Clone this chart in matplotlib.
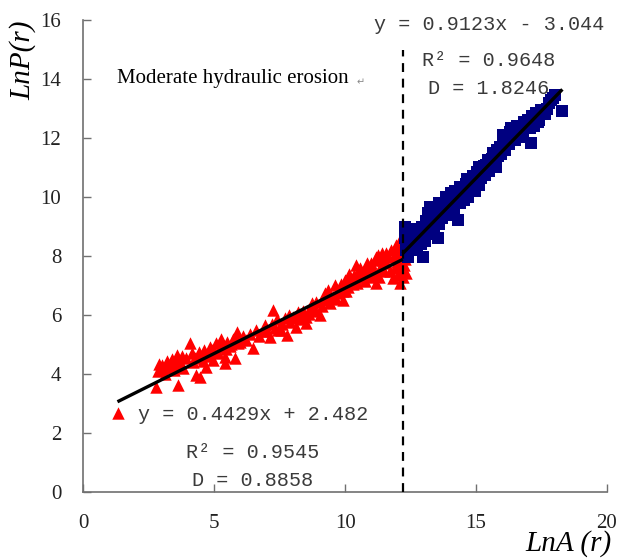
import matplotlib
matplotlib.use("Agg")
import matplotlib.pyplot as plt
import numpy as np

# ---------------- data ----------------
red_x = [1.33, 2.79, 3.62, 2.85, 3.0, 3.1, 3.2, 3.3, 3.4, 3.5, 3.56, 3.7, 3.8, 3.9, 3.0, 2.9,
         4.06, 4.13, 4.2, 4.32, 4.45, 4.5, 4.6, 4.7, 4.83, 4.95, 5.0, 5.08, 5.2, 5.3, 5.4, 5.4,
         5.5, 5.6, 5.78, 5.85, 5.91, 5.7, 6.0, 6.23, 6.48,
         6.7, 7.0, 7.12, 7.24, 7.31, 7.44, 7.6, 7.76, 7.9, 8.0, 8.07, 8.14, 8.3, 8.4, 8.52, 8.52,
         8.65, 8.77, 8.9, 9.03, 9.1, 9.22, 9.3, 9.41, 9.53, 9.6, 9.7, 9.8, 9.92, 9.98, 10.1, 10.2,
         10.3, 10.43, 10.5, 10.6, 10.68, 10.8, 10.94, 11.0, 11.1, 11.19, 11.19, 11.25, 11.35, 11.45,
         11.57, 11.57, 11.7, 11.82, 11.85, 11.95, 11.95, 12.0, 12.08, 12.08, 12.15, 12.2, 12.34,
         12.25, 12.1,
         3.15, 3.35, 3.6, 3.75, 3.45, 4.25, 4.4, 4.55, 4.75, 4.9, 5.15, 5.25, 5.45, 5.65, 5.8,
         6.1, 6.35, 6.6, 6.85, 6.95, 7.2, 7.4, 7.55, 7.7, 7.85, 8.2, 8.35, 8.6, 8.75, 8.85,
         9.15, 9.35, 9.45, 9.65, 9.85, 9.9, 10.05, 10.15, 10.35, 10.45, 10.55, 10.75, 10.85, 10.95,
         11.05, 11.15, 11.3, 11.4, 11.5, 11.65, 11.75, 11.9, 12.0, 12.05, 12.15, 12.2, 12.3]
red_y = [2.68, 3.57, 3.63, 4.1, 4.3, 4.0, 4.45, 4.2, 4.5, 4.35, 4.64, 4.4, 4.2, 4.55, 4.15, 4.35,
         5.05, 4.7, 4.4, 3.97, 3.91, 4.6, 4.8, 4.25, 4.93, 4.47, 4.75, 5.04, 4.9, 5.0, 4.59, 4.36,
         5.1, 4.95, 4.53, 5.43, 5.04, 5.2, 5.1, 5.15, 4.87,
         5.3, 5.45, 5.26, 6.17, 5.55, 5.49, 5.7, 5.32, 5.75, 5.94, 5.89, 5.6, 6.0, 6.15, 5.72, 5.94,
         6.23, 6.28, 6.45, 6.0, 6.3, 6.74, 6.5, 6.4, 6.6, 7.02, 6.75, 6.9, 6.51, 7.19, 6.95, 7.2,
         7.05, 7.69, 7.3, 7.45, 7.3, 7.55, 7.53, 7.75, 7.4, 7.07, 7.98, 8.03, 7.6, 7.85,
         7.75, 8.09, 7.5, 7.24, 8.0, 8.09, 8.37, 7.8, 7.53, 8.54, 8.1, 7.3, 7.41,
         7.7, 7.1,
         4.25, 4.4, 4.3, 4.6, 4.15, 4.55, 4.75, 4.45, 4.6, 4.8, 4.7, 5.2, 4.85, 5.0, 5.25,
         5.3, 5.35, 5.5, 5.45, 5.65, 5.7, 5.85, 5.5, 5.9, 6.0, 6.1, 5.85, 6.05, 6.4, 6.15,
         6.55, 6.85, 6.6, 6.55, 7.05, 6.8, 6.8, 7.4, 7.35, 7.1, 7.6, 7.15, 7.75, 7.3,
         7.55, 7.85, 7.3, 8.1, 7.5, 7.95, 8.2, 7.6, 8.25, 7.35, 7.7, 8.3, 7.9]

blue_x = [12.27, 12.3, 12.34, 12.4, 12.45, 12.5, 12.6, 12.7, 12.8, 12.97, 12.9, 13.0, 13.1, 13.2,
          13.23, 13.3, 13.4, 13.54, 13.5, 13.6, 13.7, 13.86, 13.9, 14.0, 14.1, 14.2, 14.31, 14.37,
          14.4, 14.5, 14.6, 14.7, 14.8, 15.0, 14.9, 15.13, 15.1, 15.25, 15.4, 15.5, 15.6, 15.77,
          15.9, 15.85, 16.02, 16.1, 16.2, 16.3, 16.41, 16.5, 16.6, 16.79, 16.92, 17.1, 17.0, 17.2,
          17.3, 17.55, 17.4, 17.7, 17.93, 18.0, 18.29,
          12.35, 12.55, 12.65, 12.75, 12.85, 12.95, 13.05, 13.15, 13.25, 13.35, 13.45, 13.6, 13.75,
          13.8, 13.95, 14.05, 14.15, 14.25, 14.45, 14.55, 14.65, 14.75, 14.85, 14.95, 15.05, 15.2,
          15.3, 15.35, 15.45, 15.55, 15.65, 15.7, 15.8, 15.95, 16.05, 16.15, 16.25, 16.35, 16.45,
          16.55, 16.7, 16.85, 17.05, 17.15, 17.35, 17.5, 17.65, 17.8, 17.85]
blue_y = [8.99, 8.6, 8.2, 7.95, 8.4, 8.8, 8.3, 8.6, 8.9, 7.98, 8.4, 8.7, 9.2, 8.9,
          9.67, 9.3, 9.0, 8.6, 9.5, 9.8, 9.3, 10.01, 9.6, 9.4, 9.9, 10.2, 9.22, 10.35,
          9.8, 10.1, 10.45, 10.0, 10.3, 10.58, 10.7, 11.03, 10.4, 10.8, 11.1, 10.9, 11.3, 11.03,
          11.71, 11.4, 12.1, 11.6, 11.9, 12.2, 12.27, 11.95, 12.3, 12.04, 12.5, 11.82, 12.6, 12.4,
          12.84, 12.84, 12.6, 13.0, 13.35, 13.46, 12.93,
          8.75, 8.55, 8.9, 8.2, 8.65, 9.0, 8.5, 9.45, 8.75, 9.55, 9.25, 9.1, 9.75,
          9.5, 9.9, 10.15, 9.6, 10.05, 10.3, 9.9, 10.6, 10.3, 10.55, 10.2, 10.85, 10.65,
          11.05, 10.75, 11.25, 11.1, 11.5, 11.2, 11.6, 11.45, 11.85, 12.05, 11.8, 12.35, 12.1,
          12.4, 12.25, 12.55, 12.35, 12.75, 12.55, 12.95, 12.8, 13.2, 13.3]

fit_red = (0.4429, 2.482)
fit_red_range = (1.3, 12.2)
fit_blue = (0.9123, -3.044)
fit_blue_range = (12.2, 18.3)
split_x = 12.2
split_top = 15.0

x_ticks = [0, 5, 10, 15, 20]
y_ticks = [0, 2, 4, 6, 8, 10, 12, 14, 16]

# ---------------- figure ----------------
fig = plt.figure(figsize=(6.18, 5.59), dpi=100)
ax = fig.add_axes([0.135, 0.12, 0.847, 0.844])

ax.scatter(red_x, red_y, marker="^", s=80, color="#FF0000", linewidths=0, zorder=3)
ax.scatter(blue_x, blue_y, marker="s", s=75, color="#000080", linewidths=0, zorder=3)

xr = np.array(fit_red_range)
ax.plot(xr, fit_red[0] * xr + fit_red[1], color="black", lw=2.4, zorder=4, solid_capstyle="butt")
xb = np.array(fit_blue_range)
ax.plot(xb, fit_blue[0] * xb + fit_blue[1], color="black", lw=2.4, zorder=4, solid_capstyle="butt")

ax.plot([split_x, split_x], [0, split_top], color="black", lw=1.6, ls=(0, (4, 3)), zorder=5)

ax.set_xlim(0, 20)
ax.set_ylim(0, 16)
ax.set_xticks(x_ticks)
ax.set_yticks(y_ticks)
for s in ["top", "right"]:
    ax.spines[s].set_visible(False)
for s in ["left", "bottom"]:
    ax.spines[s].set_color("#707070")
    ax.spines[s].set_linewidth(1.2)
ax.tick_params(direction="in", length=6, width=1.0, color="#707070",
               labelsize=15, labelcolor="#222222")
ax.tick_params(axis="y", pad=16)
ax.tick_params(axis="x", pad=16)
for lab in ax.get_xticklabels() + ax.get_yticklabels():
    lab.set_fontfamily("Liberation Serif")

# axis labels
fig.text(23 / 618, 1 - 60 / 559, "LnP(r)", rotation=90, ha="center", va="center",
         fontsize=21, style="italic", family="Liberation Serif")
fig.text(568 / 618, 1 - 544 / 559, "LnA (r)", ha="center", va="center",
         fontsize=21, style="italic", family="Liberation Serif")

# annotation
fig.text(117 / 618, 1 - 78 / 559, "Moderate hydraulic erosion", ha="left", va="center",
         fontsize=15, family="Liberation Serif")
fig.text(357 / 618, 1 - 82 / 559, "\u21b5", ha="left", va="center", fontsize=7,
         color="#888888", family="DejaVu Sans")

mono = "Liberation Mono"
tc = "#3a3a3a"
fs = 14.5
fig.text(489 / 618, 1 - 25 / 559, "y = 0.9123x - 3.044", ha="center", va="center",
         fontsize=fs, family=mono, color=tc)
fig.text(489 / 618, 1 - 60 / 559, "R\u00b2 = 0.9648", ha="center", va="center",
         fontsize=fs, family=mono, color=tc)
fig.text(489 / 618, 1 - 88 / 559, "D = 1.8246", ha="center", va="center",
         fontsize=fs, family=mono, color=tc)

fig.text(253 / 618, 1 - 415 / 559, "y = 0.4429x + 2.482", ha="center", va="center",
         fontsize=fs, family=mono, color=tc)
fig.text(253 / 618, 1 - 452 / 559, "R\u00b2 = 0.9545", ha="center", va="center",
         fontsize=fs, family=mono, color=tc)
fig.text(253 / 618, 1 - 480 / 559, "D = 0.8858", ha="center", va="center",
         fontsize=fs, family=mono, color=tc)

fig.savefig("out.png", dpi=100)
